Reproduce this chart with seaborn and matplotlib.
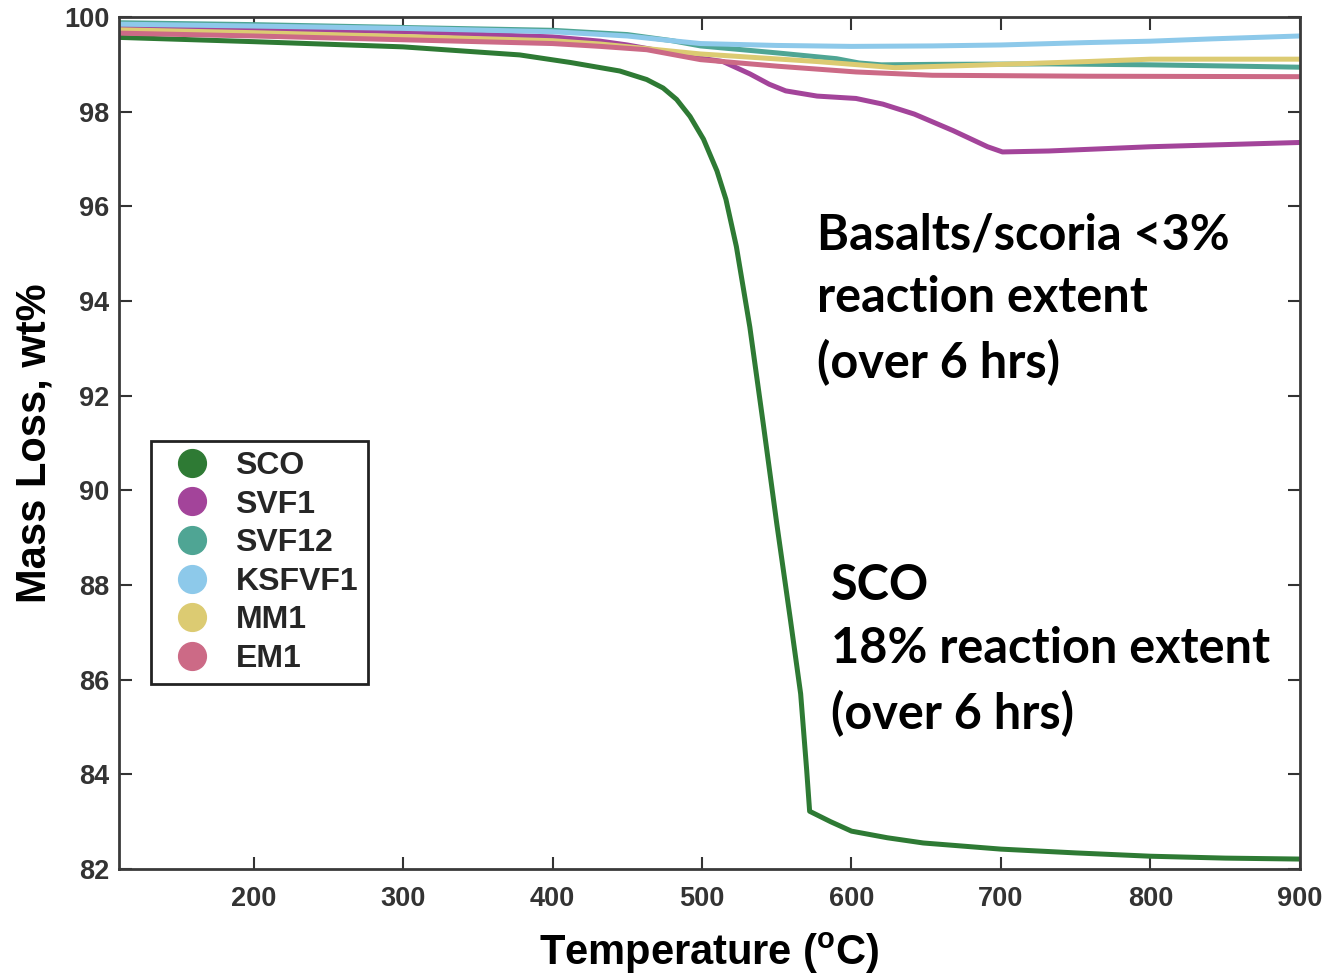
import numpy as np
import pandas as pd
import matplotlib
matplotlib.use("Agg")
import matplotlib.pyplot as plt
from matplotlib.lines import Line2D
import seaborn as sns

# Thermogravimetric curves: temperature (degC) and remaining mass (wt%)
sco_t = [110, 200, 300, 378, 412, 445, 463, 474, 483, 492, 501, 510, 516, 523,
         532, 541, 550, 559, 566, 570, 572, 586, 600, 624, 648, 700, 750, 800,
         850, 900]
sco_v = [99.57, 99.48, 99.37, 99.20, 99.04, 98.86, 98.68, 98.50, 98.26, 97.90,
         97.42, 96.75, 96.15, 95.15, 93.45, 91.40, 89.30, 87.30, 85.70, 84.10,
         83.22, 83.00, 82.80, 82.66, 82.55, 82.42, 82.34, 82.27, 82.23, 82.21]

svf1_t = [110, 200, 300, 400, 432, 450, 480, 499, 514, 532, 545, 556, 577, 603,
          621, 642, 668, 691, 701, 732, 800, 900]
svf1_v = [99.79, 99.75, 99.69, 99.58, 99.49, 99.41, 99.24, 99.13, 99.06, 98.80,
          98.58, 98.44, 98.33, 98.28, 98.16, 97.95, 97.60, 97.26, 97.15, 97.17,
          97.26, 97.35]

svf12_t = [110, 200, 300, 400, 450, 480, 499, 551, 590, 605, 620, 654, 732, 800,
           862, 900]
svf12_v = [99.88, 99.84, 99.78, 99.72, 99.63, 99.50, 99.39, 99.24, 99.12, 99.03,
           98.99, 99.00, 99.01, 98.99, 98.96, 98.94]

ksfvf1_t = [110, 200, 300, 400, 450, 480, 499, 550, 600, 654, 700, 757, 800,
            842, 900]
ksfvf1_v = [99.85, 99.81, 99.76, 99.69, 99.60, 99.50, 99.44, 99.40, 99.38, 99.39,
            99.41, 99.46, 99.49, 99.54, 99.60]

mm1_t = [110, 200, 300, 400, 432, 499, 577, 629, 681, 758, 800, 900]
mm1_v = [99.73, 99.67, 99.59, 99.50, 99.43, 99.22, 99.06, 98.93, 98.98, 99.06,
         99.11, 99.11]

em1_t = [110, 200, 300, 400, 432, 463, 499, 551, 603, 654, 758, 900]
em1_v = [99.66, 99.60, 99.52, 99.44, 99.38, 99.31, 99.10, 98.96, 98.84, 98.77,
         98.75, 98.74]

samples = ["SCO", "SVF1", "SVF12", "KSFVF1", "MM1", "EM1"]
colors = ["#2E7A34", "#A3449A", "#4FA594", "#8DC9EA", "#DCCB72", "#CC6A86"]

x_ticks = [200, 300, 400, 500, 600, 700, 800, 900]
y_ticks = [82, 84, 86, 88, 90, 92, 94, 96, 98, 100]

series = {
    "SCO": (sco_t, sco_v),
    "SVF1": (svf1_t, svf1_v),
    "SVF12": (svf12_t, svf12_v),
    "KSFVF1": (ksfvf1_t, ksfvf1_v),
    "MM1": (mm1_t, mm1_v),
    "EM1": (em1_t, em1_v),
}
frames = [pd.DataFrame({"Temperature": t, "Mass": v, "Sample": name})
          for name, (t, v) in series.items()]
df = pd.concat(frames, ignore_index=True)

sns.set_theme(style="ticks")
plt.rcParams["font.family"] = ["Liberation Sans", "DejaVu Sans"]
plt.rcParams["font.weight"] = "bold"
plt.rcParams["mathtext.fontset"] = "custom"
plt.rcParams["mathtext.rm"] = "Liberation Sans:bold"
plt.rcParams["mathtext.bf"] = "Liberation Sans:bold"

fig = plt.figure(figsize=(13.25, 9.74), dpi=100)
ax = fig.add_axes([0.0898, 0.1078, 0.8913, 0.8747])

sns.lineplot(data=df, x="Temperature", y="Mass", hue="Sample",
             hue_order=samples, palette=colors, sort=False, estimator=None,
             linewidth=3.6, legend=False, ax=ax)

ax.set_xlim(110, 900)
ax.set_ylim(82, 100)
ax.set_xticks(x_ticks)
ax.set_yticks(y_ticks)
ax.set_xticklabels([str(t) for t in x_ticks], fontsize=19.5,
                   fontweight="bold", color="#333333")
ax.set_yticklabels([str(t) for t in y_ticks], fontsize=19.5,
                   fontweight="bold", color="#333333")
ax.tick_params(axis="both", direction="in", length=9, width=1.5,
               color="#333333", top=True, right=True)
ax.tick_params(axis="x", pad=12)
ax.tick_params(axis="y", pad=7)
for sp in ax.spines.values():
    sp.set_visible(True)
    sp.set_linewidth(2.0)
    sp.set_color("#3a3a3a")

ax.set_xlabel(r"Temperature ($^{\mathregular{o}}$C)", fontsize=30,
              fontweight="bold", color="black", labelpad=14)
ax.set_ylabel("Mass Loss, wt%", fontsize=30, fontweight="bold",
              color="black", labelpad=7)

handles = [Line2D([], [], marker="o", linestyle="", markersize=20,
                  markerfacecolor=c, markeredgecolor=c) for c in colors]
leg = ax.legend(handles, samples, loc="upper left",
                bbox_to_anchor=(0.027, 0.502),
                prop={"weight": "bold", "size": 23},
                frameon=True, fancybox=False, framealpha=1,
                edgecolor="#222222", borderpad=0.3, labelspacing=0.27,
                handletextpad=0.35, handlelength=2.0, borderaxespad=0)
leg.get_frame().set_linewidth(2.0)

note_font = ["Lato", "DejaVu Sans"]
ax.text(577, 95.88, "Basalts/scoria <3%\nreaction extent\n(over 6 hrs)",
        fontsize=35, fontweight="bold", family=note_font, color="black",
        ha="left", va="top", linespacing=1.49)
ax.text(586, 88.47, "SCO\n18% reaction extent\n(over 6 hrs)",
        fontsize=35, fontweight="bold", family=note_font, color="black",
        ha="left", va="top", linespacing=1.49)

fig.savefig("out.png", dpi=100)
